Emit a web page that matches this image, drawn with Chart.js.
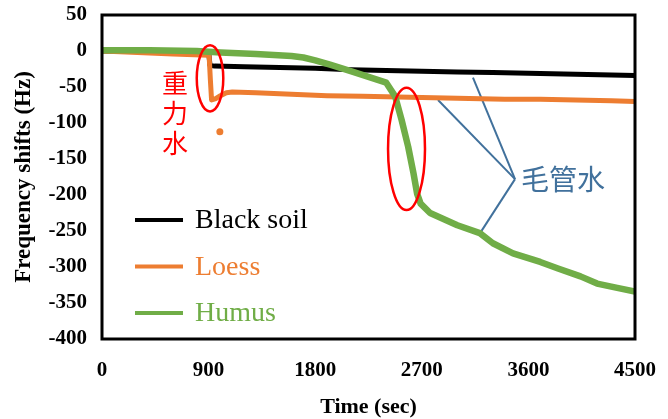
<!DOCTYPE html>
<html>
<head>
<meta charset="utf-8">
<script src="https://cdn.jsdelivr.net/npm/chart.js@4.4.1/dist/chart.umd.min.js"></script>
<style>
  html, body { margin: 0; padding: 0; background: #fff; }
  canvas { display: block; }
</style>
</head>
<body>
<canvas id="myChart" width="668" height="419"></canvas>
<script>
// values (time in sec, shift in Hz)
const timeBlack = [0, 300, 600, 900, 912, 950, 1200, 1500, 1800, 2100, 2400, 2700, 3000, 3300, 3600, 3900, 4200, 4500];
const freqBlack = [0, 0, -1, -1, -20, -21, -22, -23, -24, -26, -27, -28, -29, -30, -31, -32, -33, -34];

const timeLoess = [0, 300, 600, 900, 905, 915, 925, 960, 1000, 1050, 1100, 1300, 1600, 1900, 2200, 2500, 2800, 3100, 3400, 3700, 4000, 4300, 4500];
const freqLoess = [0, -2, -4, -6, -8, -40, -68, -66, -62, -58, -57, -58, -60, -62, -63, -64, -65, -66, -67, -67, -68, -69, -70];

const timeLoessDot = [995];
const freqLoessDot = [-112];

const timeHumus = [0, 400, 800, 1000, 1300, 1600, 1700, 1800, 1925, 2100, 2250, 2400, 2475, 2530, 2585, 2630, 2660, 2690, 2770, 3000, 3190, 3300, 3470, 3700, 3850, 4040, 4180, 4350, 4500];
const freqHumus = [1, 1, 0, -2, -4, -7, -9, -13, -19, -28, -36, -44, -63, -96, -133, -170, -198, -212, -225, -242, -253, -267, -281, -293, -302, -313, -323, -329, -334];

const seriesNames = ['Black soil', 'Loess', 'Humus'];
const seriesColors = ['#000000', '#ED7D31', '#70AD47'];

// annotations, in data units
const gravityRing = { x: 912, y: -38, rx: 112, ry: 46 };
const capillaryRing = { x: 2571, y: -136, rx: 156, ry: 85 };
const capillaryHub = { x: 3487, y: -178 };
const capillaryTips = [[3132, -37], [2837, -68], [3192, -253]];

const pts = (xs, ys) => xs.map((x, i) => ({ x: x, y: ys[i] }));

const serif = "'Liberation Serif', 'Times New Roman', serif";
const cjk = "'Noto Sans CJK TC', 'Noto Sans CJK SC', sans-serif";

const extras = {
  id: 'extras',
  beforeDatasetsDraw(chart) {
    const { ctx, scales: { x, y } } = chart;
    // blue leader lines
    ctx.save();
    ctx.strokeStyle = '#41719C';
    ctx.lineWidth = 2;
    const hx = x.getPixelForValue(capillaryHub.x), hy = y.getPixelForValue(capillaryHub.y);
    capillaryTips.forEach(t => {
      ctx.beginPath();
      ctx.moveTo(hx, hy);
      ctx.lineTo(x.getPixelForValue(t[0]), y.getPixelForValue(t[1]));
      ctx.stroke();
    });
    ctx.restore();
  },
  afterDraw(chart) {
    const { ctx, chartArea: a, scales: { x, y } } = chart;
    ctx.save();
    // red ellipses on top of the lines
    ctx.strokeStyle = '#FF0000';
    ctx.lineWidth = 2.5;
    [gravityRing, capillaryRing].forEach(r => {
      const cx = x.getPixelForValue(r.x), cy = y.getPixelForValue(r.y);
      const rx = x.getPixelForValue(r.x + r.rx) - cx;
      const ry = y.getPixelForValue(r.y - r.ry) - cy;
      ctx.beginPath();
      ctx.ellipse(cx, cy, rx, ry, 0, 0, Math.PI * 2);
      ctx.stroke();
    });

    // plot frame
    ctx.strokeStyle = '#000';
    ctx.lineWidth = 3;
    ctx.strokeRect(a.left, a.top, a.right - a.left, a.bottom - a.top);

    // legend inside the plot
    ctx.textAlign = 'left';
    ctx.textBaseline = 'middle';
    ctx.font = '28px ' + serif;
    seriesNames.forEach((name, i) => {
      const ly = a.top + 205 + i * 46.5;
      ctx.strokeStyle = seriesColors[i];
      ctx.lineWidth = 4;
      ctx.beginPath();
      ctx.moveTo(a.left + 33, ly);
      ctx.lineTo(a.left + 81, ly);
      ctx.stroke();
      ctx.fillStyle = seriesColors[i];
      ctx.fillText(name, a.left + 93, ly + 1);
    });

    // CJK labels
    ctx.font = '26px ' + cjk;
    ctx.fillStyle = '#FF0000';
    ctx.textAlign = 'center';
    ['重', '力', '水'].forEach((c, i) => {
      ctx.fillText(c, 175, 83 + i * 30);
    });
    ctx.font = '28px ' + cjk;
    ctx.fillStyle = '#41719C';
    ctx.textAlign = 'left';
    ctx.fillText('毛管水', x.getPixelForValue(capillaryHub.x) + 6, y.getPixelForValue(capillaryHub.y));
    ctx.restore();
  }
};

const noEdgePadding = scale => {
  scale.paddingTop = 0;
  scale.paddingBottom = 0;
  scale.paddingLeft = 0;
  scale.paddingRight = 0;
};

new Chart(document.getElementById('myChart').getContext('2d'), {
  type: 'line',
  data: {
    datasets: [
      {
        label: seriesNames[0],
        data: pts(timeBlack, freqBlack),
        borderColor: seriesColors[0],
        borderWidth: 5,
        pointRadius: 0,
        order: 3,
      },
      {
        label: seriesNames[1],
        data: pts(timeLoess, freqLoess),
        borderColor: seriesColors[1],
        borderWidth: 5,
        pointRadius: 0,
        order: 2,
      },
      {
        label: 'Loess dot',
        data: pts(timeLoessDot, freqLoessDot),
        borderColor: seriesColors[1],
        backgroundColor: seriesColors[1],
        showLine: false,
        pointRadius: 3.5,
        pointBorderWidth: 0,
        order: 2,
      },
      {
        label: seriesNames[2],
        data: pts(timeHumus, freqHumus),
        borderColor: seriesColors[2],
        borderWidth: 6.5,
        pointRadius: 0,
        order: 1,
      },
    ],
  },
  options: {
    responsive: false,
    animation: false,
    elements: { line: { borderCapStyle: 'round', borderJoinStyle: 'round', tension: 0 } },
    layout: { padding: { top: 15, right: 33, left: 0, bottom: 0 } },
    plugins: { legend: { display: false }, tooltip: { enabled: false } },
    scales: {
      x: {
        type: 'linear',
        min: 0,
        max: 4500,
        grid: { display: false, drawTicks: false },
        border: { display: false },
        ticks: {
          stepSize: 900, padding: 19, color: '#000',
          font: { family: serif, size: 21, weight: 'bold' },
          callback: v => String(v),
        },
        title: { display: true, text: 'Time (sec)', color: '#000', padding: 0, font: { family: serif, size: 22, weight: 'bold', lineHeight: 1.1 } },
        afterFit(scale) { scale.height = 80; noEdgePadding(scale); },
      },
      y: {
        min: -400,
        max: 50,
        grid: { display: false, drawTicks: false },
        border: { display: false },
        ticks: {
          stepSize: 50, padding: 15, color: '#000',
          font: { family: serif, size: 21, weight: 'bold' },
          callback: v => String(v),
        },
        title: { display: true, text: 'Frequency shifts (Hz)', color: '#000', padding: { top: 10, bottom: 0 }, font: { family: serif, size: 23, weight: 'bold' } },
        afterFit(scale) { scale.width = 102; noEdgePadding(scale); },
      },
    },
  },
  plugins: [extras],
});
</script>
</body>
</html>
